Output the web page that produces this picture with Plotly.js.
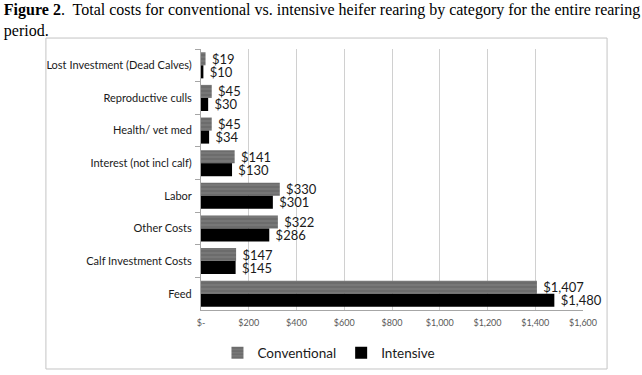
<!DOCTYPE html>
<html>
<head>
<meta charset="utf-8">
<script src="https://cdn.plot.ly/plotly-3.0.1.min.js"></script>
<style>html,body{margin:0;padding:0;background:#fff;}#chart{width:642px;height:375px;}</style>
</head>
<body>
<div id="chart"></div>
<script>
var categories = ["Lost Investment (Dead Calves)", "Reproductive culls", "Health/ vet med", "Interest (not incl calf)", "Labor", "Other Costs", "Calf Investment Costs", "Feed"];
var conventional = [19, 45, 45, 141, 330, 322, 147, 1407];
var intensive = [10, 30, 34, 130, 301, 286, 145, 1480];
var tickValues = [0, 200, 400, 600, 800, 1000, 1200, 1400, 1600];
var tickLabels = ["$-", "$200", "$400", "$600", "$800", "$1,000", "$1,200", "$1,400", "$1,600"];

function money(v) {
  return "\u00a0$" + v.toLocaleString("en-US");
}

var labelFont = {family: "Lato, 'Open Sans', sans-serif", size: 13, color: "#1a1a1a"};

var traces = [
  {
    type: "bar", orientation: "h", name: "Conventional",
    y: categories, x: conventional,
    text: conventional.map(money), textposition: "outside", cliponaxis: false,
    constraintext: "none", textfont: labelFont,
    marker: {color: "#707070", line: {width: 0},
             pattern: {shape: "-", fgcolor: "#646464", bgcolor: "#777777", size: 4, solidity: 0.3}},
    hoverinfo: "x+y"
  },
  {
    type: "bar", orientation: "h", name: "Intensive",
    y: categories, x: intensive,
    text: intensive.map(money), textposition: "outside", cliponaxis: false,
    constraintext: "none", textfont: labelFont,
    marker: {color: "#000000", line: {width: 0}},
    hoverinfo: "x+y"
  }
];

var layout = {
  width: 642, height: 375,
  margin: {l: 201, r: 59, t: 49, b: 65, autoexpand: false},
  paper_bgcolor: "#ffffff", plot_bgcolor: "#ffffff",
  font: {family: "Lato, 'Open Sans', sans-serif", color: "#1a1a1a"},
  title: {
    text: "<b>Figure 2</b>.  Total costs for conventional vs. intensive heifer rearing by category for the entire rearing<br>period.",
    font: {family: "'Liberation Serif', 'Times New Roman', serif", size: 16, color: "#000"},
    xref: "container", yref: "container", x: 0.006, xanchor: "left", y: 0.96, yanchor: "middle", pad: {t: 0, b: 0, l: 0}
  },
  barmode: "group", bargap: 0.2, bargroupgap: 0,
  showlegend: true,
  legend: {
    orientation: "h", x: 0.335, xanchor: "center", y: -0.105, yanchor: "top",
    font: {family: "Lato, 'Open Sans', sans-serif", size: 13.5, color: "#1a1a1a"},
    traceorder: "normal", itemwidth: 30
  },
  xaxis: {
    range: [0, 1600], tickvals: tickValues, ticktext: tickLabels,
    showgrid: true, gridcolor: "#d0d0d0", gridwidth: 1,
    showline: true, linecolor: "#a6a6a6", linewidth: 1,
    zeroline: false, ticks: "", tickfont: {size: 9, color: "#595959"},
    ticklabelstandoff: 4,
    fixedrange: true
  },
  yaxis: {
    autorange: "reversed", type: "category",
    showline: true, linecolor: "#a6a6a6", linewidth: 1,
    ticks: "outside", tickson: "boundaries", ticklen: 5, tickcolor: "#a6a6a6",
    ticklabelstandoff: 6,
    showgrid: false, tickfont: {size: 11, color: "#1a1a1a"},
    fixedrange: true
  },
  shapes: [
    {type: "rect", xref: "paper", yref: "paper", x0: -0.406, x1: 1.063, y0: -0.226, y1: 1.042,
     line: {color: "#c4c4c4", width: 1}, fillcolor: "rgba(0,0,0,0)", layer: "below"}
  ]
};

Plotly.newPlot("chart", traces, layout, {displayModeBar: false, staticPlot: true});
</script>
</body>
</html>
